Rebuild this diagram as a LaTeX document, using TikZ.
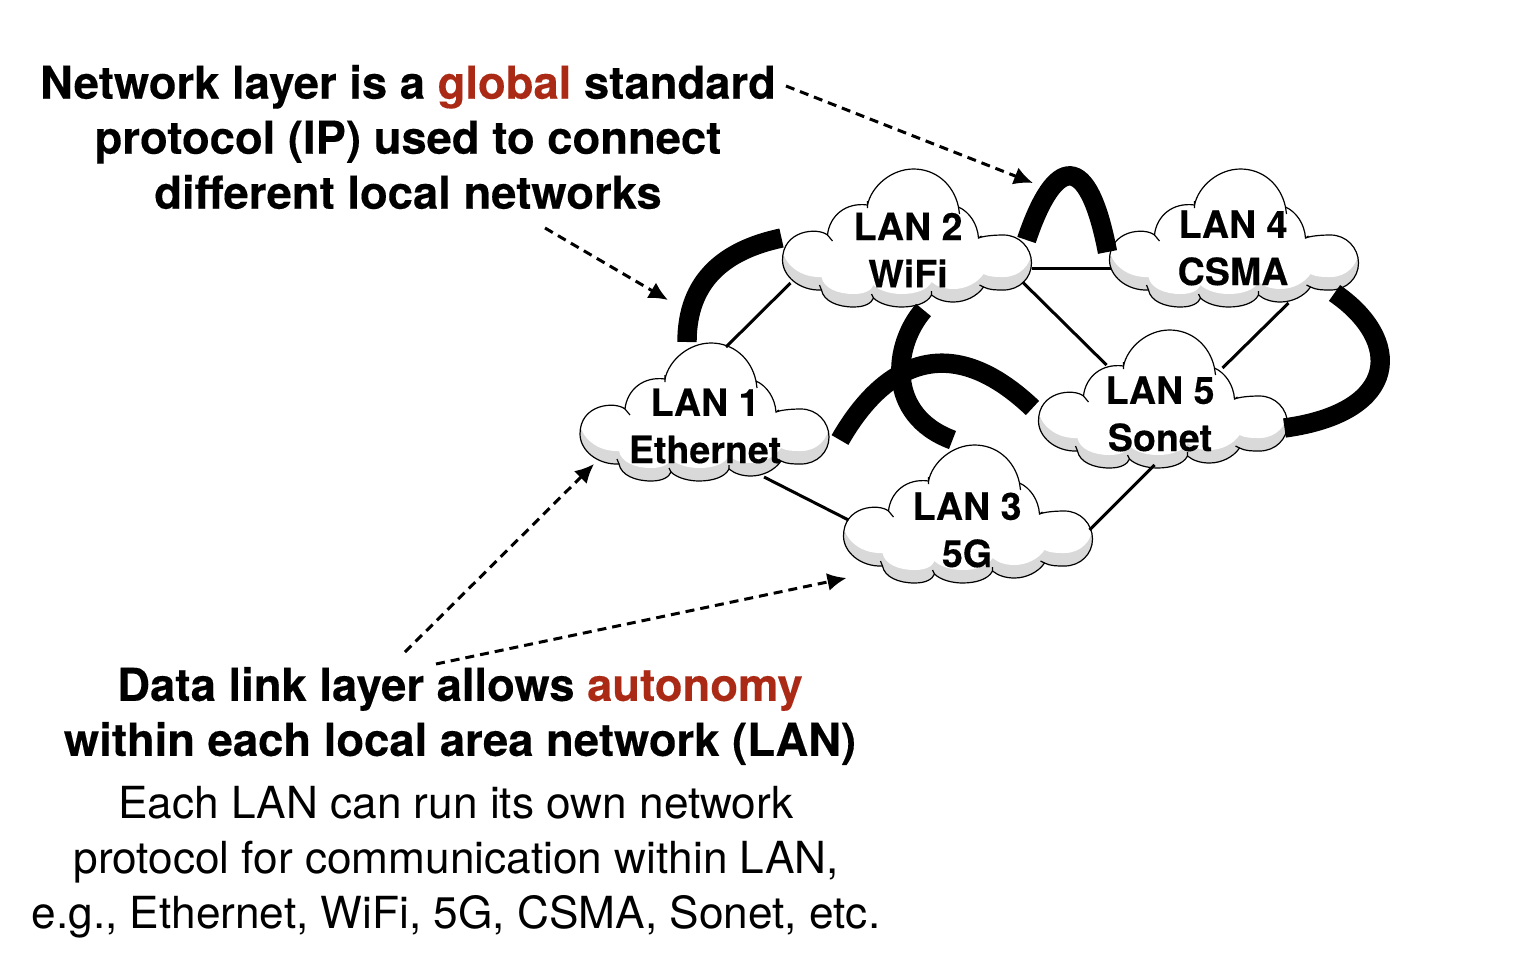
\documentclass[tikz,border=0pt]{standalone}
\usepackage{fontspec}
\setmainfont[BoldFeatures={FakeBold=0.25}]{TeX Gyre Heros}
\usetikzlibrary{arrows.meta}
\definecolor{accent}{HTML}{AA2A16}
\definecolor{cloudshade}{HTML}{D9D9D9}
\tikzset{
  x=0.5pt,y=-0.5pt,
  cloud outline/.style={insert path={
    (-80,-3) .. controls (-90,-11) and (-125,-8) .. (-125,22)
    .. controls (-125,38) and (-108,53) .. (-86,52)
    .. controls (-84,63) and (-70,69) .. (-54,69)
    .. controls (-42,69) and (-36,65) .. (-34,60)
    .. controls (-28,66) and (-16,69) .. (-6,69)
    .. controls (8,69) and (20,65) .. (24,57)
    .. controls (30,62) and (38,64) .. (46,64)
    .. controls (58,64) and (70,58) .. (76,49)
    .. controls (82,52) and (88,52) .. (96,52)
    .. controls (112,52) and (124,40) .. (124,25)
    .. controls (124,10) and (112,-3) .. (96,-3)
    .. controls (86,-3) and (76,-2) .. (71,0)
    .. controls (70,-14) and (62,-26) .. (51,-31)
    .. controls (46,-54) and (28,-69) .. (6,-69)
    .. controls (-16,-69) and (-36,-52) .. (-40,-33)
    .. controls (-62,-36) and (-78,-22) .. (-80,-3) -- cycle}},
  cloud ticks/.style={insert path={
    (-80,-3) -- (-75,3) (51,-31) -- (52,-24) (-40,-37) -- (-40,-30) (71,0) -- (74,-2)
    (-86,52) -- (-88,47) (-34,60) -- (-36,56) (24,57) -- (24,53) (76,49) -- (72,47)}},
  lancloud/.style={minimum width=125pt,minimum height=69pt,inner sep=0pt},
  lanlabel/.style={align=center,font=\fontsize{18.8}{23.6}\selectfont\bfseries,inner sep=0pt},
  thinlink/.style={line width=1.5pt},
  thicklink/.style={line width=9.7pt},
  pointer/.style={line width=1.5pt,dash pattern=on 4.5pt off 3pt,-{Latex[length=9.5pt,width=9pt]}},
  bigtext/.style={align=center,font=\fontsize{22.1}{27.5}\selectfont,inner sep=0pt},
  boldtext/.style={bigtext,font=\fontsize{22.7}{27.5}\selectfont\bfseries}
}
\newcommand{\cloudat}[1]{%
  \begin{scope}[shift={(#1.center)}]
    \fill [cloudshade,cloud outline];
    \begin{scope}
      \clip [cloud outline];
      \begin{scope}[yshift=6.5pt]
        \fill [white,cloud outline];
      \end{scope}
    \end{scope}
    \draw [line width=0.6pt,cloud outline];
    \draw [line width=0.6pt,cloud ticks];
  \end{scope}}
\begin{document}
\begin{tikzpicture}
  \useasboundingbox (0,0) rectangle (1528,970);

  \node [lancloud] (lan1) at (705,412)   {};
  \node [lancloud] (lan2) at (907.5,238) {};
  \node [lancloud] (lan3) at (968.5,514) {};
  \node [lancloud] (lan4) at (1234.5,238) {};
  \node [lancloud] (lan5) at (1163.5,399) {};
  \cloudat{lan1}
  \cloudat{lan2}
  \cloudat{lan3}
  \cloudat{lan4}
  \cloudat{lan5}

  \node [lanlabel] (lan1text) at (705,426)  {LAN 1\\Ethernet};
  \node [lanlabel] (lan2text) at (908,250)  {LAN 2\\WiFi};
  \node [lanlabel] (lan3text) at (967,530)  {LAN 3\\5G};
  \node [lanlabel] (lan4text) at (1233,248) {LAN 4\\CSMA};
  \node [lanlabel] (lan5text) at (1160,414) {LAN 5\\Sonet};

  % links between the clouds
  \draw [thinlink] ([shift={(21,-65)}]lan1.center) -- ([shift={(-117,45)}]lan2.center);
  \draw [thinlink] ([shift={(124,30)}]lan2.center) -- ([shift={(-124,30)}]lan4.center);
  \draw [thinlink] ([shift={(115,44)}]lan2.center) -- ([shift={(-57,-34)}]lan5.center);
  \draw [thinlink] ([shift={(54,65)}]lan4.center) -- ([shift={(59,-31)}]lan5.center);
  \draw [thinlink] ([shift={(59,65)}]lan1.center) -- ([shift={(-120,6)}]lan3.center);
  \draw [thinlink] ([shift={(121,16)}]lan3.center) -- ([shift={(-9,66)}]lan5.center);

  \draw [thicklink] ([shift={(-18,-70)}]lan1.center) .. controls (687,280) and (725,250) .. ([shift={(-126,0)}]lan2.center);
  \draw [thicklink] ([shift={(16,72)}]lan2.center) .. controls (893,345) and (885,415) .. ([shift={(-16,-74)}]lan3.center);
  \draw [thicklink] ([shift={(135,28)}]lan1.center) .. controls (880,370) and (945,325) .. ([shift={(-131,9)}]lan5.center);
  \draw [thicklink] ([shift={(119,2)}]lan2.center) .. controls (1055,155) and (1088,150) .. ([shift={(-127,14)}]lan4.center);
  \draw [thicklink] ([shift={(100,55)}]lan4.center) .. controls (1403,340) and (1401,412) .. ([shift={(121,29)}]lan5.center);

  % captions
  \node [boldtext] (netlayer) at (408,137)
    {Network layer is a \textcolor{accent}{global} standard\\protocol (IP) used to connect\\different local networks};
  \node [boldtext] (datalink) at (460,716)
    {Data link layer allows \textcolor{accent}{autonomy}\\within each local area network (LAN)};
  \node [bigtext] (lannote) at (456,862)
    {Each LAN can run its own network\\protocol for communication within LAN,\\e.g., Ethernet, WiFi, 5G, CSMA, Sonet, etc.};

  \coordinate (linktip) at (1033,183);
  \coordinate (bridgetip) at (668,300);
  \draw [pointer] ([shift={(378,-51)}]netlayer.center) -- (linktip);
  \draw [pointer] ([shift={(137,91)}]netlayer.center) -- (bridgetip);
  \draw [pointer] ([shift={(-55,-64)}]datalink.center) -- ([shift={(-111,52)}]lan1.center);
  \draw [pointer] ([shift={(-24,-52)}]datalink.center) -- ([shift={(-122,64)}]lan3.center);
\end{tikzpicture}
\end{document}
